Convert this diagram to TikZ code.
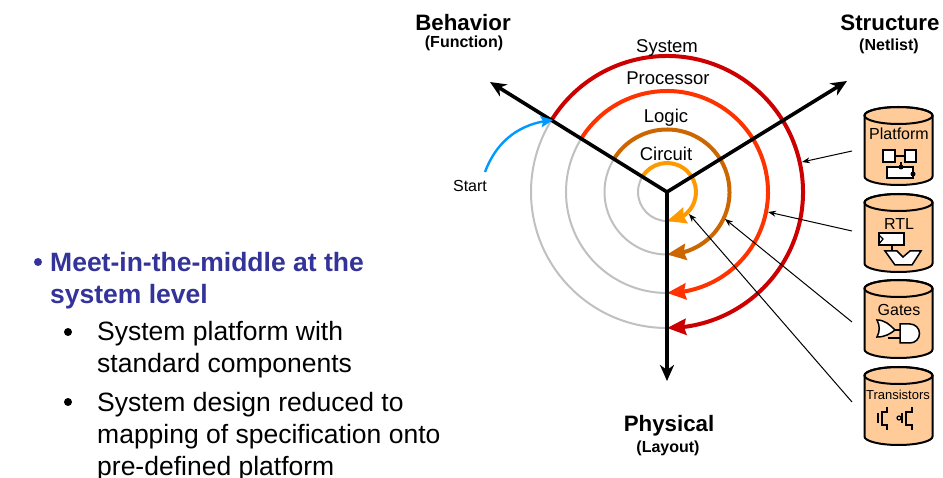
\documentclass[tikz,border=0pt]{standalone}
\usepackage{fontspec}
\setmainfont{Liberation Sans}
\usetikzlibrary{arrows.meta,bending}
\definecolor{sysred}{HTML}{CC0000}
\definecolor{procred}{HTML}{FF3300}
\definecolor{logicbrown}{HTML}{CC6600}
\definecolor{circorange}{HTML}{FF9900}
\definecolor{startblue}{HTML}{0099FF}
\definecolor{ringgray}{HTML}{C0C0C0}
\definecolor{bodyblue}{HTML}{333399}
\definecolor{dbfill}{HTML}{FFCC99}
\tikzset{
  axisline/.style={line width=3.6pt,-{Stealth[length=16pt,width=14pt,inset=5pt]}},
  ringgrey/.style={line width=2pt,ringgray},
  ringarc/.style={line width=4pt,-{Stealth[length=19pt,width=16pt,inset=2pt,flex]}},
  pointer/.style={line width=1pt,-{Stealth[length=8pt,width=6pt]}},
  dbcan/.pic={
    \draw[draw=black,line width=2pt,fill=dbfill] (-34,8.5) -- (-34,69.5) arc (180:0:34 and 8.5) -- (34,8.5) arc (0:-180:34 and 8.5) -- cycle;
    \draw[draw=black,line width=2pt] (0,8.5) ellipse (34 and 8.5);
  },
  icon/.style={draw=black,line width=1.5pt,fill=white},
  wire/.style={draw=black,line width=1.2pt},
  lvl/.style={font=\fontsize{18.5}{19}\selectfont,inner sep=0pt},
  axhead/.style={font=\fontsize{22.3}{23}\selectfont\bfseries,inner sep=0pt},
  axsub/.style={font=\fontsize{16}{16}\selectfont\bfseries,inner sep=0pt},
  dblabel/.style={font=\fontsize{16}{16}\selectfont,inner sep=0pt},
  bodytxt/.style={font=\fontsize{26.5}{32}\selectfont,inner sep=0pt,anchor=north west,align=left},
}
\begin{document}
\begin{tikzpicture}[x=1pt,y=-1pt]
\useasboundingbox (0,0) rectangle (943,478);
\coordinate (hub) at (667,192);
% Grey rings
\draw[ringgrey] (hub) circle (29);
\draw[ringgrey] (hub) circle (62.5);
\draw[ringgrey] (hub) circle (101);
\draw[ringgrey] (hub) circle (136);
% Coloured rings
\draw[ringarc,sysred] (hub)++(212:136) arc (212:450:136);
\draw[ringarc,procred] (hub)++(212:101) arc (212:450:101);
\draw[ringarc,logicbrown] (hub)++(212:62.5) arc (212:450:62.5);
\draw[ringarc,circorange] (hub)++(212:29) arc (212:450:29);
% Axes
\coordinate (behavior) at (490,82);
\coordinate (structure) at (847,81);
\coordinate (physical) at (667,381);
\draw[axisline] (hub) -- (behavior);
\draw[axisline] (hub) -- (structure);
\draw[axisline] (hub) -- (physical);
% Axis labels
\node[axhead] (behaviorlbl) at (463,23) {Behavior};
\node[axsub] (functionlbl) at (464,43) {(Function)};
\node[axhead] (structurelbl) at (890,23) {Structure};
\node[axsub] (netlistlbl) at (889,46) {(Netlist)};
\node[axhead] (physicallbl) at (669,426) {Physical};
\node[axsub] (layoutlbl) at (668,448) {(Layout)};
% Level labels
\node[lvl] (systemlbl) at (667,47.5) {System};
\node[lvl] (processorlbl) at (668,78) {Processor};
\node[lvl] (logiclbl) at (666,118) {Logic};
\node[lvl] (circuitlbl) at (666,154) {Circuit};
% Start
\node[font=\fontsize{16}{16}\selectfont,inner sep=0pt] (startlbl) at (470,186) {Start};
\coordinate (startfrom) at (485,172);
\coordinate (startto) at (553,120);
\draw[line width=2.4pt,startblue,-{Stealth[length=12pt,width=11pt,inset=2pt]}] (startfrom) to[bend left=32] (startto);
% Databases
\pic at (898.5,107) {dbcan};
\pic at (898.5,194) {dbcan};
\pic at (898.5,280) {dbcan};
\pic at (898.5,367) {dbcan};
\node[dblabel] (platformlbl) at (899,134) {Platform};
\node[dblabel] (rtllbl) at (899,224) {RTL};
\node[dblabel] (gateslbl) at (899,310) {Gates};
\node[dblabel,font=\fontsize{13}{13}\selectfont] (translbl) at (898,395) {Transistors};
% Pointers
\coordinate (platformfrom) at (852,151);
\coordinate (rtlfrom) at (852,231);
\coordinate (gatesfrom) at (852,322);
\coordinate (transfrom) at (852,402);
\coordinate (platformto) at (802,162);
\coordinate (rtlto) at (768,212);
\coordinate (gatesto) at (725,219);
\coordinate (transto) at (689,214);
\draw[pointer] (platformfrom) -- (platformto);
\draw[pointer] (rtlfrom) -- (rtlto);
\draw[pointer] (gatesfrom) -- (gatesto);
\draw[pointer] (transfrom) -- (transto);
% Platform icon
\draw[wire] (895,156) -- (905,156);
\draw[wire] (901,162) -- (901,167);
\draw[icon] (883,150) rectangle (895,162);
\draw[icon] (905,150) rectangle (916,162);
\draw[icon] (887,167) rectangle (913,178);
\fill (901,167) circle (2.5);
\fill (913,174) circle (2.5);
% RTL icon
\draw[wire] (892,245) -- (892,251);
\draw[icon] (879,233) rectangle (904,245);
\draw[wire] (879,235) -- (883,239) -- (879,244);
\draw[icon] (885,251) -- (897,251) -- (903,257) -- (910,251) -- (921,251) -- (912,265) -- (895,265) -- cycle;
% Gates icon
\draw[wire] (893,330) -- (900,330);
\draw[wire] (888,338) -- (900,338);
\draw[icon] (877,320) .. controls (885,320) and (890,325) .. (895,330) .. controls (890,334) and (885,337) .. (877,337) .. controls (880,331) and (880,326) .. (877,320) -- cycle;
\draw[icon] (900,324) -- (910,324) arc (-90:90:9.5) -- (900,343) -- cycle;
% Transistors icon
\draw[wire] (887,407) -- (887,412) -- (882,412) -- (882,425) -- (887,425) -- (887,430);
\draw[wire] (878,413) -- (878,423);
\draw[wire] (912,407) -- (912,412) -- (906,412) -- (906,425) -- (912,425) -- (912,430);
\draw[wire] (902,413) -- (902,423);
\draw[wire] (899,418) circle (2);
% Body text
\fill[bodyblue] (38,262) circle (4);
\node[bodytxt,text=bodyblue,font=\fontsize{26.5}{32}\selectfont\bfseries] (heading) at (50,252) {Meet-in-the-middle at the\\system level};
\fill (68,332) circle (4);
\node[bodytxt] (subone) at (97,321) {System platform with\\standard components};
\fill (68,402) circle (4);
\node[bodytxt] (subtwo) at (97,392) {System design reduced to\\mapping of specification onto\\pre-defined platform};
\end{tikzpicture}
\end{document}
